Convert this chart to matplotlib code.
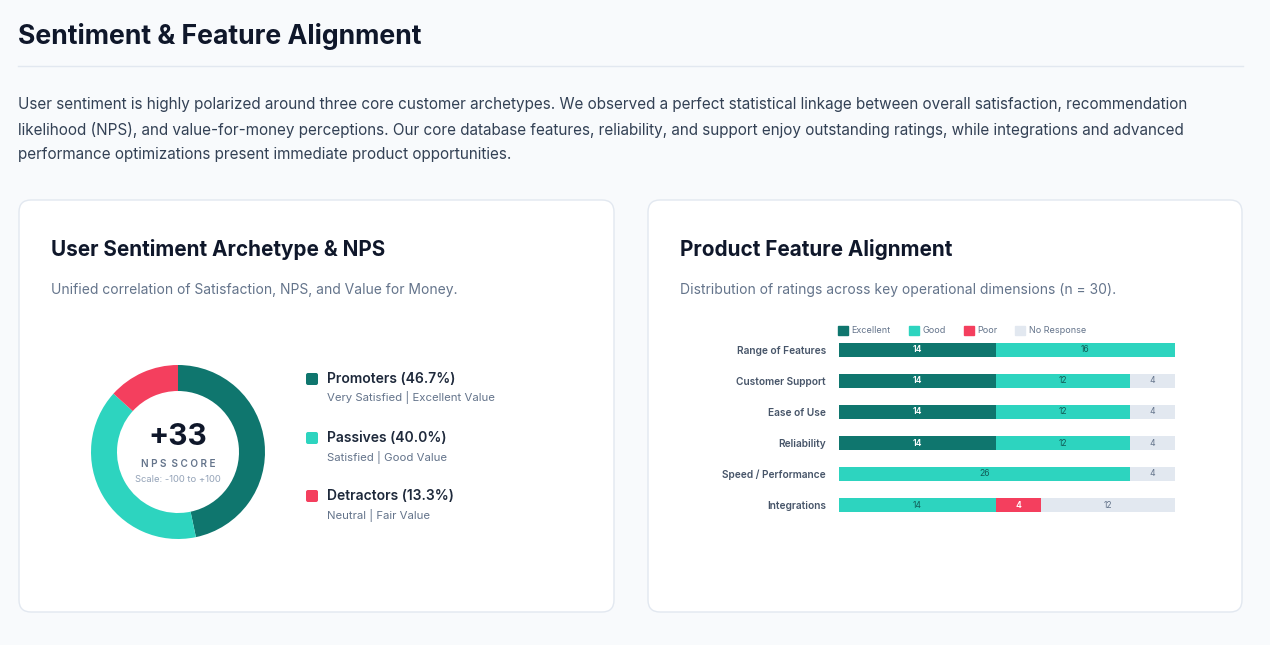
import matplotlib
matplotlib.use("Agg")
import matplotlib.pyplot as plt
from matplotlib.patches import FancyBboxPatch, Patch

plt.rcParams['font.family'] = ['Inter', 'DejaVu Sans']

# data
segments = ["Promoters", "Passives", "Detractors"]
segment_pct = [46.7, 40.0, 13.3]
segment_desc = ["Very Satisfied | Excellent Value", "Satisfied | Good Value", "Neutral | Fair Value"]
nps_score = "+33"

features = ["Range of Features", "Customer Support", "Ease of Use",
            "Reliability", "Speed / Performance", "Integrations"]
ratings = ["Excellent", "Good", "Poor", "No Response"]
excellent = [14, 14, 14, 14, 0, 0]
good = [16, 12, 12, 12, 26, 14]
poor = [0, 0, 0, 0, 0, 4]
no_response = [0, 4, 4, 4, 4, 12]

teal_dark = "#0f766e"
teal = "#2dd4bf"
rose = "#f43f5e"
slate_light = "#e2e8f0"
seg_colors = [teal_dark, teal, rose]
rate_colors = [teal_dark, teal, rose, slate_light]
label_colors = ["white", "#115e59", "white", "#64748b"]

W, H = 1270, 645
fig = plt.figure(figsize=(W / 100, H / 100), dpi=100)
fig.patch.set_facecolor("#f8fafc")

bg = fig.add_axes([0, 0, 1, 1])
bg.set_xlim(0, W)
bg.set_ylim(H, 0)
bg.axis("off")
bg.set_zorder(0)

def px_axes(x0, y0, x1, y1):
    return fig.add_axes([x0 / W, 1 - y1 / H, (x1 - x0) / W, (y1 - y0) / H])

# header
bg.text(18, 37, "Sentiment & Feature Alignment", fontsize=19.2, fontweight="bold",
        color="#0f172a", va="center")
bg.plot([18, 1243], [65.5, 65.5], color="#e2e8f0", lw=1)
para = ["User sentiment is highly polarized around three core customer archetypes. We observed a perfect statistical linkage between overall satisfaction, recommendation",
        "likelihood (NPS), and value-for-money perceptions. Our core database features, reliability, and support enjoy outstanding ratings, while integrations and advanced",
        "performance optimizations present immediate product opportunities."]
for i, line in enumerate(para):
    bg.text(18, 104 + i * 25.5, line, fontsize=11.0, color="#334155", va="center")

# cards
for x0, x1 in [(19, 614), (648, 1242)]:
    bg.add_patch(FancyBboxPatch((x0, 200), x1 - x0, 412,
                                boxstyle="round,pad=0,rounding_size=12",
                                fc="white", ec="#e2e8f0", lw=1))

bg.text(51, 250, "User Sentiment Archetype & NPS", fontsize=14.9, fontweight="bold",
        color="#0f172a", va="center")
bg.text(51, 290, "Unified correlation of Satisfaction, NPS, and Value for Money.",
        fontsize=10, color="#64748b", va="center")
bg.text(680, 250, "Product Feature Alignment", fontsize=14.9, fontweight="bold",
        color="#0f172a", va="center")
bg.text(680, 290, "Distribution of ratings across key operational dimensions (n = 30).",
        fontsize=10, color="#64748b", va="center")

# donut
dax = px_axes(178 - 87, 452 - 87, 178 + 87, 452 + 87)
dax.pie(segment_pct, colors=seg_colors, startangle=90, counterclock=False,
        radius=1, wedgeprops=dict(width=26 / 87, linewidth=0))
dax.set_xlim(-1, 1)
dax.set_ylim(-1, 1)
dax.set_aspect("equal")
dax.axis("off")
bg.text(178, 437, nps_score, fontsize=21.5, fontweight="bold", color="#0f172a",
        ha="center", va="center")
bg.text(178, 464, "N P S  S C O R E", fontsize=7.2, fontweight="semibold",
        color="#64748b", ha="center", va="center")
bg.text(178, 480, "Scale: -100 to +100", fontsize=6.8, color="#94a3b8",
        ha="center", va="center")

# donut legend
for i, (name, pct, desc) in enumerate(zip(segments, segment_pct, segment_desc)):
    y = [379, 438, 496][i]
    bg.add_patch(FancyBboxPatch((306, y - 6), 12, 12, boxstyle="round,pad=0,rounding_size=2",
                                fc=seg_colors[i], ec="none"))
    bg.text(327, y, f"{name} ({pct:.1f}%)", fontsize=10, fontweight="semibold",
            color="#1e293b", va="center")
    bg.text(327, y + 19, desc, fontsize=8.2, color="#64748b", va="center")

# stacked bars
bax = px_axes(839, 334.5, 1175, 520.5)
series = [excellent, good, poor, no_response]
left = [0] * len(features)
for vals, name, col, lcol in zip(series, ratings, rate_colors, label_colors):
    bars = bax.barh(range(len(features)), vals, left=left, height=0.42, color=col,
                    label=name, linewidth=0)
    for b, v in zip(bars, vals):
        if v > 0:
            bax.text(b.get_x() + b.get_width() / 2, b.get_y() + b.get_height() / 2, str(v),
                     ha="center", va="center", fontsize=6.2, color=lcol,
                     fontweight="semibold" if lcol == "white" else "normal")
    left = [l + v for l, v in zip(left, vals)]
bax.set_xlim(0, 30)
bax.set_ylim(5.5, -0.5)
bax.set_yticks(range(len(features)))
bax.set_yticklabels(features, fontsize=7.3, fontweight="semibold", color="#475569")
bax.tick_params(axis="y", length=0, pad=9.5)
bax.set_xticks([])
for s in bax.spines.values():
    s.set_visible(False)
bax.patch.set_alpha(0)

handles = [Patch(color=c) for c in rate_colors]
bax.legend(handles, ratings, ncol=4, loc="lower left", bbox_to_anchor=(-0.006, 0.99),
           frameon=False, fontsize=6.5, labelcolor="#64748b", handlelength=1.1,
           handleheight=1.1, handletextpad=0.4, columnspacing=2.0, borderaxespad=0.1,
           borderpad=0)

fig.savefig("out.png", dpi=100, facecolor=fig.get_facecolor())
